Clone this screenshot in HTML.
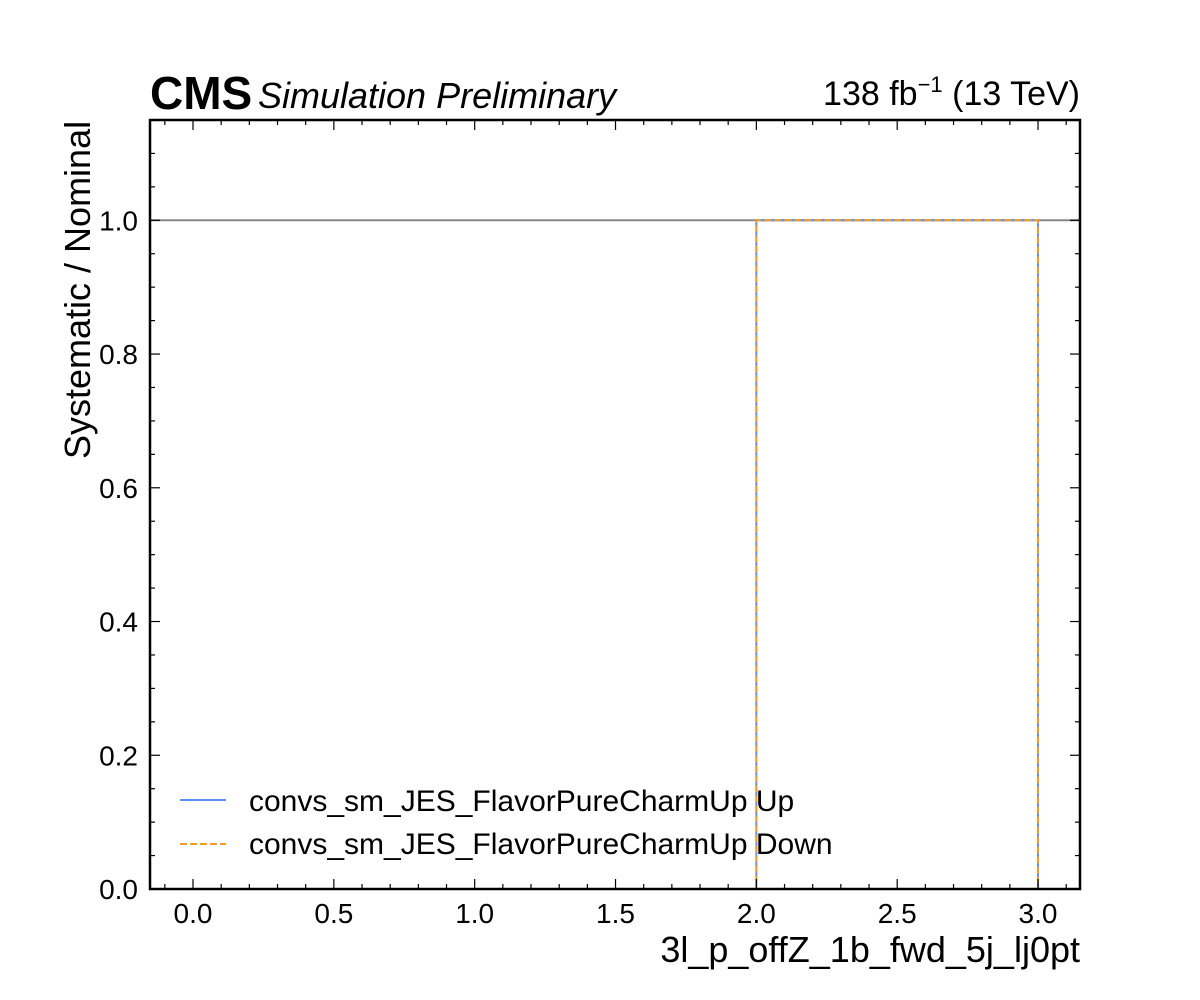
<!DOCTYPE html>
<html><head><meta charset="utf-8"><style>
body{margin:0;background:#fff}
svg{display:block;font-family:"Liberation Sans",sans-serif}
</style></head><body>
<svg id="c" width="1200" height="1000">
<text x="150" y="109" font-size="46" font-weight="bold">CMS</text>
<text x="258" y="108" font-size="36" font-style="italic">Simulation Preliminary</text>
<text x="1080" y="105" font-size="34" text-anchor="end">138 fb<tspan dy="-13" font-size="22">−1</tspan><tspan dy="13"> (13 TeV)</tspan></text>
<text x="1080" y="962" font-size="36" text-anchor="end">3l_p_offZ_1b_fwd_5j_lj0pt</text>
<text transform="translate(90,459) rotate(-90)" font-size="36" text-anchor="start">Systematic / Nominal</text>
<g id="g"></g>
</svg>
<script>
const binEdges=[0,1,2,3];
const upValues=[0,0,1];
const downValues=[0,0,1];
const xTicks=[0,0.5,1,1.5,2,2.5,3];
const yTicks=[0,0.2,0.4,0.6,0.8,1.0];
const L=150,R=1080,T=120,B=889,X0=-0.1527,X1=3.149,Y0=0,Y1=1.15;
const sx=v=>L+(v-X0)/(X1-X0)*(R-L), sy=v=>B-(v-Y0)/(Y1-Y0)*(B-T);
const g=document.getElementById('g'),NS='http://www.w3.org/2000/svg';
function mk(t,a){const e=document.createElementNS(NS,t);for(const k in a)e.setAttribute(k,a[k]);g.appendChild(e);return e;}
function stepPath(vals){let d='';for(let i=0;i<vals.length;i++){const x0=sx(binEdges[i]),x1=sx(binEdges[i+1]),y=sy(vals[i]);d+=(i?'L':'M')+x0+','+y+'L'+x1+','+y;}d+='L'+sx(binEdges[vals.length])+','+sy(0);return d;}
let e=mk('line',{x1:L,x2:R,y1:sy(1),y2:sy(1),stroke:'#888',"stroke-width":2});


e=mk('path',{d:stepPath(upValues),fill:'none',stroke:'#5790fc',"stroke-width":2});


e=mk('path',{d:stepPath(downValues),fill:'none',stroke:'#f89c20',"stroke-width":2,"stroke-dasharray":"7,3"});


for(let v=-0.1;v<=3.101;v+=0.1){const x=sx(v),maj=Math.abs(v*2-Math.round(v*2))<1e-6,l=maj?10:5;
 e=mk('line',{x1:x,x2:x,y1:B,y2:B-l,stroke:'#000',"stroke-width":1.2});
 
 
 e=mk('line',{x1:x,x2:x,y1:T,y2:T+l,stroke:'#000',"stroke-width":1.2});
 
 }
for(let v=0;v<=1.1501;v+=0.05){const y=sy(v),maj=Math.abs(v*5-Math.round(v*5))<1e-6,l=maj?10:5;
 e=mk('line',{x1:L,x2:L+l,y1:y,y2:y,stroke:'#000',"stroke-width":1.2});
 
 
 e=mk('line',{x1:R,x2:R-l,y1:y,y2:y,stroke:'#000',"stroke-width":1.2});
 
 }
xTicks.forEach(v=>{e=mk('text',{x:sx(v),y:923,"font-size":28,"text-anchor":"middle"});e.textContent=v.toFixed(1);
 
 });
yTicks.forEach(v=>{e=mk('text',{x:138,y:sy(v)+10,"font-size":28,"text-anchor":"end"});e.textContent=v.toFixed(1);
 
 });
e=mk('rect',{x:L,y:T,width:R-L,height:B-T,fill:'none',stroke:'#000',"stroke-width":2.5});


e=mk('line',{x1:180,x2:226,y1:800,y2:800,stroke:'#5790fc',"stroke-width":2});


e=mk('text',{x:249,y:811,"font-size":30});e.textContent='convs_sm_JES_FlavorPureCharmUp Up';


e=mk('line',{x1:180,x2:226,y1:844,y2:844,stroke:'#f89c20',"stroke-width":2,"stroke-dasharray":"7,3"});


e=mk('text',{x:249,y:854,"font-size":30});e.textContent='convs_sm_JES_FlavorPureCharmUp Down';


</script>
</body></html>
